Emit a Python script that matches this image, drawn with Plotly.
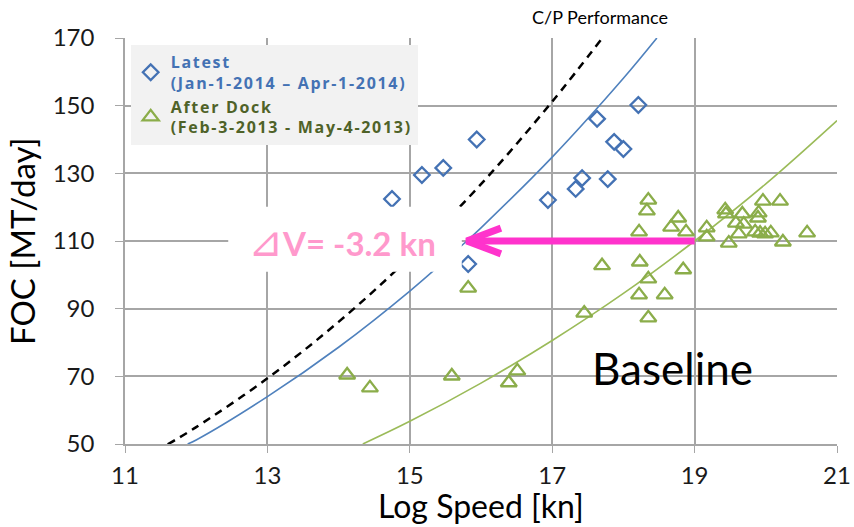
import plotly.graph_objects as go

# Latest period (Jan-1-2014 – Apr-1-2014): log speed [kn], FOC [MT/day]
latest_speed = [14.75, 15.17, 15.47, 15.94, 15.82, 16.94, 17.33, 17.42, 17.63, 17.78, 17.87, 18.00, 18.21]
latest_foc = [122.4, 129.5, 131.6, 140.0, 103.2, 122.1, 125.4, 128.6, 146.1, 128.3, 139.3, 137.2, 150.2]

# After dock period (Feb-3-2013 - May-4-2013)
dock_speed = [14.12, 14.44, 15.59, 16.39, 16.51, 15.82, 17.45, 17.70,
              18.22, 18.22, 18.23, 18.33, 18.35, 18.35, 18.35, 18.58, 18.67, 18.77, 18.84, 18.88,
              19.17, 19.17, 19.43, 19.44, 19.48, 19.58, 19.62, 19.67, 19.69,
              19.85, 19.89, 19.90, 19.92, 19.96, 19.99, 20.07, 20.20, 20.24, 20.58]
dock_foc = [70.4, 66.6, 70.1, 68.1, 71.6, 96.1, 88.7, 102.7,
            112.7, 94.1, 103.8, 118.9, 122.1, 98.8, 87.3, 94.1, 114.1, 116.8, 101.5, 112.7,
            113.9, 111.2, 119.2, 118.0, 109.4, 115.3, 112.1, 118.0, 115.0,
            112.7, 116.8, 118.3, 112.3, 121.8, 112.1, 112.4, 121.8, 109.7, 112.4]

# Speed-consumption curves
cp_speed = [11.60, 12.0, 13.0, 14.0, 15.0, 16.0, 17.0, 17.70]
cp_foc = [49.9, 55.0, 69.4, 86.1, 105.2, 126.8, 151.2, 169.9]

latest_curve_speed = [11.88, 12.0, 13.0, 14.0, 15.0, 15.8, 16.0, 17.0, 18.0, 18.47]
latest_curve_foc = [50.0, 51.2, 64.0, 78.6, 95.2, 110.0, 113.9, 134.8, 158.1, 170.0]

baseline_speed = [14.34, 15.0, 16.0, 17.0, 18.0, 19.0, 20.0, 21.0]
baseline_foc = [50.0, 56.7, 68.0, 80.6, 94.5, 110.0, 126.9, 145.6]

# Speed loss at constant consumption
ref_foc = 110.0
ref_speed = 19.0
delta_v = -3.2

x_ticks = [11, 13, 15, 17, 19, 21]
y_ticks = [50, 70, 90, 110, 130, 150, 170]

FONT = "Lato, 'Open Sans', sans-serif"
LEGEND_FONT = "'Open Sans', Lato, sans-serif"
BLUE = "#4472B4"
GREEN = "#8BAD4A"
GREEN_LINE = "#9BBB59"
PINK_ARROW = "#FF33CC"
PINK_TEXT = "#FF99CC"
GRID = "#A6A6A6"

fig = go.Figure()

fig.add_trace(go.Scatter(
    x=cp_speed, y=cp_foc, mode="lines", line_shape="spline",
    line=dict(color="black", width=2.5, dash="8px,6px"),
    showlegend=False, hoverinfo="skip"))
fig.add_trace(go.Scatter(
    x=latest_curve_speed, y=latest_curve_foc, mode="lines", line_shape="spline",
    line=dict(color="#4F81BD", width=1.6), showlegend=False, hoverinfo="skip"))
fig.add_trace(go.Scatter(
    x=baseline_speed, y=baseline_foc, mode="lines", line_shape="spline",
    line=dict(color=GREEN_LINE, width=1.6), showlegend=False, hoverinfo="skip"))

LEG = "letter-spacing:1.7px"
fig.add_trace(go.Scatter(
    x=latest_speed, y=latest_foc, mode="markers",
    marker=dict(symbol="diamond-open", size=12, color=BLUE, line=dict(width=2.3, color=BLUE)),
    name=f"<span style='color:{BLUE};{LEG}'><b>Latest<br>(Jan-1-2014 – Apr-1-2014)</b></span>"))
fig.add_trace(go.Scatter(
    x=dock_speed, y=dock_foc, mode="markers",
    marker=dict(symbol="triangle-up-open", size=14, color=GREEN, line=dict(width=2.3, color=GREEN)),
    name=f"<span style='color:#4F6228;{LEG}'><b>After Dock<br>(Feb-3-2013 - May-4-2013)</b></span>"))

# Speed-loss arrow: shaft plus open chevron head
tip = ref_speed + delta_v
head_dx, head_dy = 0.48, 3.8
fig.add_trace(go.Scatter(
    x=[ref_speed, tip, None, tip + head_dx, tip, tip + head_dx],
    y=[ref_foc, ref_foc, None, ref_foc + head_dy, ref_foc, ref_foc - head_dy],
    mode="lines", line=dict(color=PINK_ARROW, width=7),
    showlegend=False, hoverinfo="skip"))

# White label box for the speed-loss text
fig.add_shape(type="rect", xref="x", yref="y", layer="above",
              x0=12.45, x1=tip - 0.07, y0=100.9, y1=120.1,
              fillcolor="white", line=dict(width=0))

fig.add_annotation(x=(12.45 + tip) / 2 - 0.08, y=110.4, xref="x", yref="y",
                   text=f"<span style='font-size:42px'>⊿</span><b>V= {delta_v:.1f} kn</b>",
                   showarrow=False,
                   font=dict(family=FONT, size=33, color=PINK_TEXT))
fig.add_annotation(x=18.69, y=72.5, xref="x", yref="y", text="Baseline",
                   showarrow=False, font=dict(family=FONT, size=44, color="black"))
fig.add_annotation(x=0.667, y=1, xref="paper", yref="paper", xanchor="center",
                   yanchor="bottom", yshift=8,
                   text="C/P Performance", showarrow=False,
                   font=dict(family=FONT, size=18, color="black"))
# Axis titles
fig.add_annotation(x=0.5, y=0, xref="paper", yref="paper", xanchor="center",
                   yanchor="bottom", yshift=-83, text="Log Speed [kn]", showarrow=False,
                   font=dict(family=FONT, size=32, color="black"))
fig.add_annotation(x=0, y=0.5, xref="paper", yref="paper", xanchor="center",
                   yanchor="middle", xshift=-103, textangle=-90, text="FOC [MT/day]",
                   showarrow=False, font=dict(family=FONT, size=33, color="black"))

fig.update_layout(
    width=854, height=527,
    margin=dict(l=125, r=17, t=38, b=83),
    paper_bgcolor="white", plot_bgcolor="white",
    font=dict(family=FONT, color="black"),
    legend=dict(x=0.008, y=0.983, xanchor="left", yanchor="top",
                bgcolor="#F2F2F2", font=dict(family=LEGEND_FONT, size=16),
                tracegroupgap=0, itemwidth=30),
    xaxis=dict(range=[11, 21], tickvals=x_ticks, showgrid=True, gridcolor=GRID, gridwidth=1.5,
               showline=True, linecolor=GRID, linewidth=1.5, ticks="outside", ticklen=7,
               tickcolor=GRID, tickfont=dict(size=24, color="#1a1a1a"), zeroline=False,
               ticklabelstandoff=2, automargin=False),
    yaxis=dict(range=[50, 170], tickvals=y_ticks, showgrid=True, gridcolor=GRID, gridwidth=1.5,
               showline=True, linecolor=GRID, linewidth=1.5, ticks="outside", ticklen=8,
               tickcolor=GRID, tickfont=dict(size=24, color="#1a1a1a"), zeroline=False,
               ticklabelstandoff=16, automargin=False),
)

fig.write_html("out.html")
